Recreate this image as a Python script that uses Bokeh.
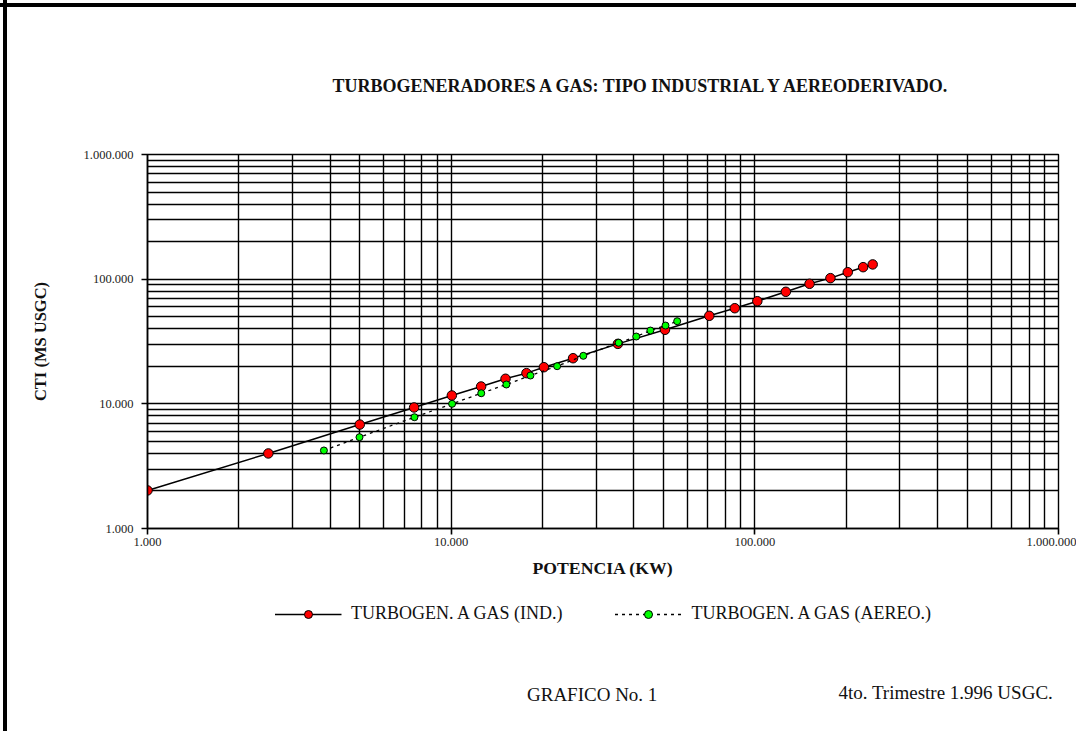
from bokeh.plotting import figure
from bokeh.layouts import column
from bokeh.models import Range1d, FixedTicker, Legend, LegendItem, Title
from bokeh.embed import file_html
from bokeh.resources import INLINE

# ---- data ----
ind_kw = [1000, 2500, 5000, 7550, 10050, 12550, 15100, 17700, 20200, 25200, 35400,
          50600, 70800, 85900, 101900, 126500, 151400, 177400, 202300, 227300, 244400]
ind_cti = [2020, 4000, 6820, 9350, 11670, 13770, 15890, 17620, 19670, 23220, 30270,
           39270, 50820, 58480, 66560, 79200, 91800, 101900, 113700, 124800, 131300]

aer_kw = [3810, 4990, 7570, 10070, 12560, 15200, 18240, 22330, 27240, 35600, 40700,
          45300, 50800, 55500]
aer_cti = [4226, 5400, 7810, 10000, 12160, 14290, 16870, 20040, 24270, 30900, 34670,
           38720, 42470, 46000]

tick_vals = [1000, 10000, 100000, 1000000]
tick_labels = ["1.000", "10.000", "100.000", "1.000.000"]

title_text = "TURBOGENERADORES A GAS: TIPO INDUSTRIAL Y AEREODERIVADO."
x_title = "POTENCIA (KW)"
y_title = "CTI (MS USGC)"
series_names = ["TURBOGEN. A GAS (IND.)", "TURBOGEN. A GAS (AEREO.)"]
footer_texts = ["GRAFICO No. 1", "4to. Trimestre 1.996 USGC."]

FONT = "Liberation Serif"
W, H1, H2 = 1076, 588, 143

IND_LINE = dict(line_color="black", line_width=1.5)
IND_MARK = dict(size=9.5, fill_color="#ff0000", line_color="black", line_width=1)
AER_LINE = dict(line_color="black", line_width=1.3, line_dash="3 4")
AER_MARK = dict(size=7, fill_color="#00ff00", line_color="black", line_width=1)

p = figure(width=W, height=H1, x_axis_type="log", y_axis_type="log",
           x_range=Range1d(1e3, 1e6), y_range=Range1d(1e3, 1e6),
           output_backend="svg", toolbar_location=None,
           min_border_left=147, min_border_right=18, min_border_top=154,
           min_border_bottom=60)
p.background_fill_color = "white"
p.border_fill_color = None
p.outline_line_color = "black"
p.outline_line_width = 1.4

minor = [m * 10 ** e for e in (3, 4, 5) for m in range(2, 10)]
for ax in (p.xaxis, p.yaxis):
    ax.ticker = FixedTicker(ticks=tick_vals, minor_ticks=minor)
    ax.major_label_overrides = {v: t for v, t in zip(tick_vals, tick_labels)}
    ax.axis_line_color = "black"
    ax.axis_line_width = 1.6
    ax.major_tick_line_color = "black"
    ax.major_tick_line_width = 1.6
    ax.major_tick_out = 6
    ax.major_tick_in = 0
    ax.minor_tick_line_color = None
    ax.major_label_text_font = FONT
    ax.major_label_text_font_size = "12.5px"
    ax.major_label_text_color = "#222222"
    ax.axis_label_text_font = FONT
    ax.axis_label_text_font_style = "bold"
    ax.axis_label_text_color = "#111111"

p.xaxis.major_label_standoff = 3
p.xaxis.axis_label = x_title
p.xaxis.axis_label_text_font_size = "17.7px"
p.xaxis.axis_label_standoff = 9
p.yaxis.major_label_standoff = 8
p.yaxis.major_label_orientation = "horizontal"
p.yaxis.axis_label = y_title
p.yaxis.axis_label_text_font_size = "16.5px"
p.yaxis.axis_label_standoff = 31

p.grid.grid_line_color = "black"
p.grid.grid_line_width = 1.4
p.grid.minor_grid_line_color = "black"
p.grid.minor_grid_line_width = 1.4

p.line(ind_kw, ind_cti, **IND_LINE)
p.scatter(ind_kw, ind_cti, **IND_MARK)
p.line(aer_kw, aer_cti, **AER_LINE)
p.scatter(aer_kw, aer_cti, **AER_MARK)

# title above the frame
p.title = Title(text=title_text, align="left", offset=185, standoff=118,
                text_font=FONT, text_font_size="18px", text_font_style="bold",
                text_color="#111111")

# legend + footer strip (legend keys reuse the series; their values fall outside
# this strip's ranges, so only the legend entries show)
p2 = figure(width=W, height=H2, x_range=Range1d(147, 1058), y_range=Range1d(H2, 0),
            output_backend="svg", toolbar_location=None,
            x_axis_location=None, y_axis_location=None,
            min_border_left=147, min_border_right=18, min_border_top=0,
            min_border_bottom=0)
p2.outline_line_color = None
p2.background_fill_color = None
p2.border_fill_color = None
p2.grid.visible = False

k1 = p2.line(ind_kw, ind_cti, **IND_LINE)
m1 = p2.scatter(ind_kw, ind_cti, **IND_MARK)
k2 = p2.line(aer_kw, aer_cti, **AER_LINE)
m2 = p2.scatter(aer_kw, aer_cti, **AER_MARK)

legend = Legend(items=[LegendItem(label=series_names[0], renderers=[k1, m1]),
                       LegendItem(label=series_names[1], renderers=[k2, m2])],
                orientation="horizontal", location="top_center",
                glyph_width=67, glyph_height=20, label_height=20,
                label_standoff=10, spacing=52, padding=0, margin=15,
                border_line_color=None, background_fill_alpha=0,
                label_text_font=FONT, label_text_font_size="18px",
                label_text_color="#111111")
p2.add_layout(legend, "center")

p2.text(x=[526.5, 838], y=[105.5, 103.5], text=footer_texts,
        text_align="left", text_baseline="middle", text_font=FONT,
        text_font_size="19px", text_color="#111111")

layout = column(p, p2, spacing=0, styles={
    "background": "linear-gradient(#000,#000) 3px 0/4px 100% no-repeat, "
                  "linear-gradient(#000,#000) 0 3px/100% 4px no-repeat, #fff"})

open("out.html", "w").write(file_html(layout, INLINE))
